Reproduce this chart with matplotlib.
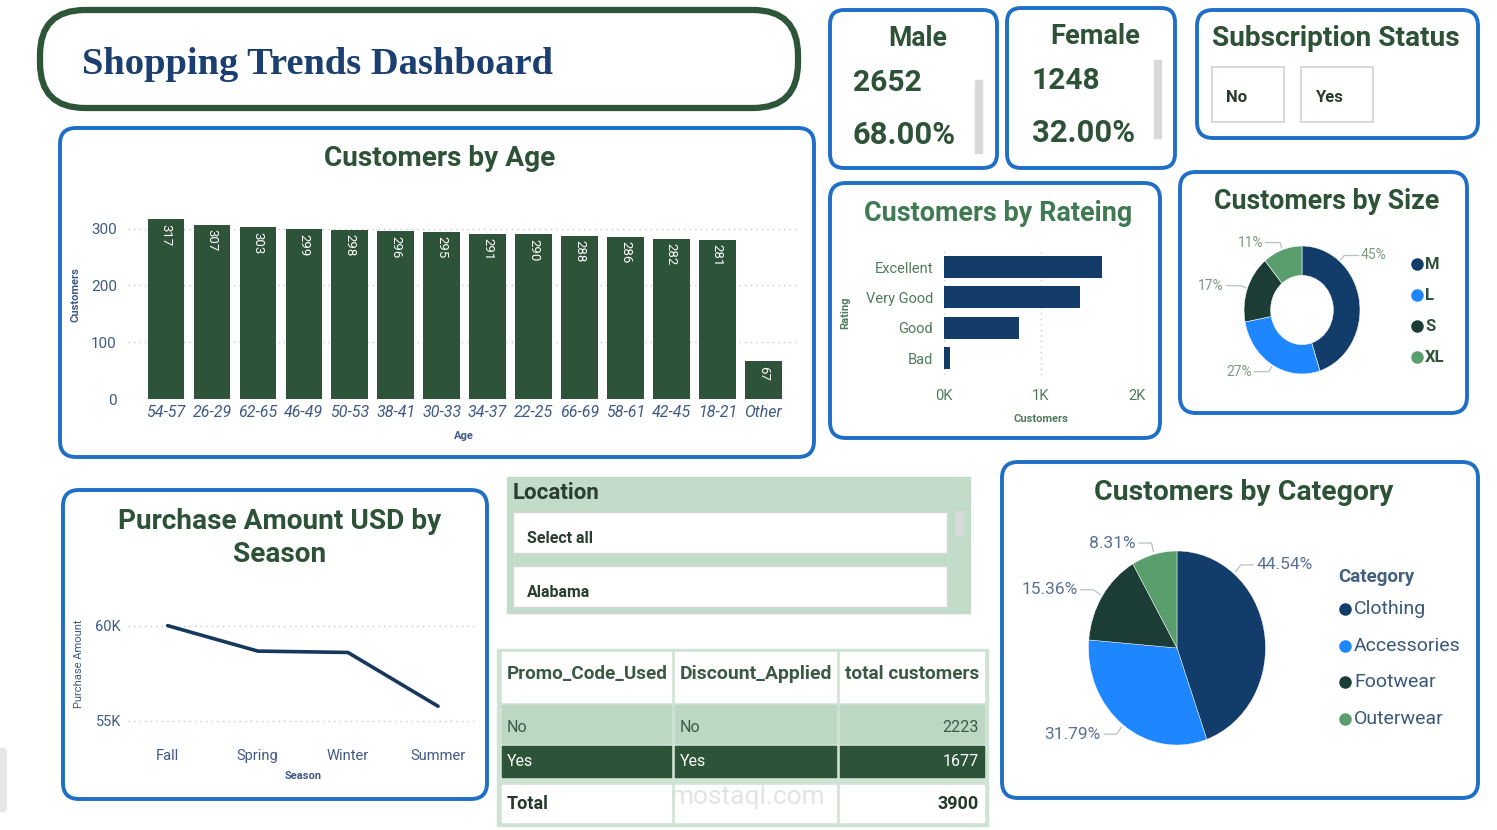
import numpy as np
import matplotlib
matplotlib.use('Agg')
import matplotlib.pyplot as plt
from matplotlib.patches import FancyBboxPatch, Rectangle
from matplotlib import font_manager

W, H = 1497, 830

# ---- data ----
age_groups = ['54-57', '26-29', '62-65', '46-49', '50-53', '38-41', '30-33',
              '34-37', '22-25', '66-69', '58-61', '42-45', '18-21', 'Other']
age_customers = [317, 307, 303, 299, 298, 296, 295, 291, 290, 288, 286, 282, 281, 67]

ratings = ['Excellent', 'Very Good', 'Good', 'Bad']
rating_customers = [1640, 1405, 775, 65]

sizes = ['M', 'L', 'S', 'XL']
size_share = [45, 27, 17, 11]

seasons = ['Fall', 'Spring', 'Winter', 'Summer']
season_amount = [60018, 58679, 58607, 55777]

categories = ['Clothing', 'Accessories', 'Footwear', 'Outerwear']
category_share = [44.54, 31.79, 15.36, 8.31]

genders = ['Male', 'Female']
gender_count = [2652, 1248]
gender_pct = [68.00, 32.00]

subscription = ['No', 'Yes']
locations = ['Select all', 'Alabama']

table_cols = ['Promo_Code_Used', 'Discount_Applied', 'total customers']
promo_used = ['No', 'Yes']
discount_applied = ['No', 'Yes']
promo_customers = [2223, 1677]
promo_total = 3900

# ---- colours ----
BLUE = '#1f6fc6'
TITLE_GREEN = '#2e5237'
NAVY = '#123c69'
BRIGHT = '#1e86ff'
DARK = '#1b3d36'
LIGHT = '#5a9e6e'
BAR_GREEN = '#2d5338'
SLATE = '#3f5a86'
GRAYGREEN = '#4f7a5c'
slice_colors = [NAVY, BRIGHT, DARK, LIGHT]

names = {f.name for f in font_manager.fontManager.ttflist}
COND = 'Liberation Sans Narrow' if 'Liberation Sans Narrow' in names else 'Roboto'
plt.rcParams['font.family'] = [COND, 'DejaVu Sans']

fig = plt.figure(figsize=(W / 100, H / 100), dpi=100)
bg = fig.add_axes([0, 0, 1, 1])
bg.set_xlim(0, W)
bg.set_ylim(H, 0)
bg.axis('off')
renderer = fig.canvas.get_renderer()


def px_axes(x0, y0, x1, y1):
    ax = fig.add_axes([x0 / W, 1 - y1 / H, (x1 - x0) / W, (y1 - y0) / H])
    ax.set_facecolor('none')
    return ax


def panel(x0, y0, x1, y1, ec=BLUE, lw=2.8, r=16, fc='white'):
    bg.add_patch(FancyBboxPatch((x0 + r, y0 + r), x1 - x0 - 2 * r, y1 - y0 - 2 * r,
                                boxstyle=f'round,pad={r},rounding_size={r}',
                                fc=fc, ec=ec, lw=lw))


def fit(t, width):
    bb = t.get_window_extent(renderer)
    t.set_fontsize(t.get_fontsize() * width / bb.width)
    return t


def title(x, y, s, width, ha='center', color=TITLE_GREEN):
    t = bg.text(x, y + 2, s, ha=ha, va='center', color=color, fontsize=18, fontweight='bold')
    return fit(t, width)


def style_axis(ax):
    for sp in ax.spines.values():
        sp.set_visible(False)
    ax.tick_params(length=0)


def pie_labels(ax, shares, fmt, color, fs, hook):
    total = sum(shares)
    start = 90
    for s in shares:
        span = s / total * 360
        mid = start - span / 2
        ang = (start + mid) / 2 if s / total > 0.4 else mid
        a = np.radians(ang)
        cx, cy = np.cos(a), np.sin(a)
        side = 1 if cx >= 0 else -1
        x1, y1 = 1.12 * cx, 1.12 * cy
        ax.plot([1.03 * cx, x1, x1 + side * hook], [1.03 * cy, y1, y1],
                color='#b8c2bc', lw=0.9, clip_on=False)
        ax.text(x1 + side * (hook + 0.04), y1, fmt.format(s), ha='left' if side > 0 else 'right',
                va='center', color=color, fontsize=fs, clip_on=False)
        start -= span


# ---- header ----
panel(40, 10, 798, 108, ec='#2c5637', lw=4.5, r=45)
t = bg.text(82, 64, 'Shopping Trends Dashboard', ha='left', va='center', color='#1a3f70',
            fontsize=28, fontweight='bold', family=['Liberation Serif', 'DejaVu Serif'])
fit(t, 471)

# ---- gender cards ----
cards = [(830, 10, 997, 168, 918, 853, 978, 80, 153),
         (1007, 8, 1175, 168, 1095, 1032, 1157, 60, 138)]
for (x0, y0, x1, y1, tx, vx, gx, g0, g1), g, n, p in zip(cards, genders, gender_count, gender_pct):
    panel(x0, y0, x1, y1, r=14)
    title(tx, y0 + 27, g, 59 if g == 'Male' else 90)
    fit(bg.text(vx, y0 + 73, str(n), ha='left', va='center', color=TITLE_GREEN,
                fontsize=18, fontweight='bold'), 69)
    fit(bg.text(vx, y0 + 125, f'{p:.2f}%', ha='left', va='center', color=TITLE_GREEN,
                fontsize=18, fontweight='bold'), 103)
    bg.add_patch(Rectangle((gx - 3, g0), 7, g1 - g0, color='#d9d9d9'))

# ---- subscription slicer ----
panel(1197, 10, 1478, 138, r=16)
title(1212, 37, 'Subscription Status', 248, ha='left')
for i, s in enumerate(subscription):
    bx = 1212 + i * 89
    bg.add_patch(Rectangle((bx, 67), 72, 55, fc='white', ec='#d2d2d2', lw=1.2))
    bg.text(bx + 14, 97, s, ha='left', va='center', color='#2b3a30', fontsize=12, fontweight='bold')

# ---- customers by age ----
panel(60, 128, 814, 457)
title(440, 157, 'Customers by Age', 232)
ax = px_axes(128, 210, 800, 399)
xs = np.arange(len(age_groups))
ax.bar(xs, age_customers, width=0.8, color=BAR_GREEN, zorder=2)
for x, v in zip(xs, age_customers):
    ax.text(x, v - 8, str(v), rotation=270, ha='center', va='top', color='white', fontsize=9.5)
ax.set_xlim(-0.83, 13.8)
ax.set_ylim(0, 333)
ax.set_yticks([0, 100, 200, 300])
ax.set_xticks(xs)
ax.set_xticklabels(age_groups, fontstyle='italic', fontsize=11.5, color=SLATE)
ax.tick_params(axis='y', labelsize=11, labelcolor=SLATE, pad=8)
ax.tick_params(axis='x', pad=4)
ax.grid(axis='y', ls=(0, (1, 3)), color='#c8c8c8', lw=1, zorder=0)
style_axis(ax)
ax.set_ylabel('Customers', fontsize=8, fontweight='bold', color=SLATE)
ax.yaxis.set_label_coords(-0.071, 0.55)
ax.set_xlabel('Age', fontsize=8, fontweight='bold', color=SLATE)
ax.xaxis.set_label_coords(0.5, -0.17)

# ---- customers by rating ----
panel(830, 183, 1160, 438)
title(998, 211, 'Customers by Rateing', 268, color='#3f7a52')
ax = px_axes(944, 250, 1137, 375)
ys = np.arange(len(ratings))
ax.barh(ys, rating_customers, height=0.72, color='#143c68', zorder=2)
ax.set_ylim(3.55, -0.56)
ax.set_xlim(0, 2000)
ax.set_yticks(ys)
ax.set_yticklabels(ratings)
ax.set_xticks([0, 1000, 2000])
ax.set_xticklabels(['0K', '1K', '2K'])
ax.tick_params(labelsize=10.5, labelcolor=GRAYGREEN)
ax.tick_params(axis='x', pad=10)
ax.tick_params(axis='y', pad=8)
ax.grid(axis='x', ls=(0, (1, 3)), color='#c8c8c8', lw=1, zorder=0)
style_axis(ax)
ax.set_ylabel('Rating', fontsize=8, fontweight='bold', color=GRAYGREEN)
ax.yaxis.set_label_coords(-0.487, 0.5)
ax.set_xlabel('Customers', fontsize=8, fontweight='bold', color=GRAYGREEN)
ax.xaxis.set_label_coords(0.5, -0.31)

# ---- customers by size ----
panel(1180, 172, 1467, 413)
title(1327, 199, 'Customers by Size', 225)
ax = px_axes(1244, 246, 1360, 374)
ax.pie(size_share, colors=slice_colors, startangle=90, counterclock=False,
       wedgeprops=dict(width=0.46, edgecolor='white', linewidth=0.4))
ax.set_aspect('auto')
ax.set_xlim(-1, 1)
ax.set_ylim(-1, 1)
pie_labels(ax, size_share, '{:.0f}%', '#7d9986', 10, 0.25)
for i, (s, c) in enumerate(zip(sizes, slice_colors)):
    yy = 264 + i * 31
    bg.plot(1417, yy, 'o', ms=8, color=c)
    bg.text(1425, yy, s, ha='left', va='center', color=TITLE_GREEN, fontsize=12, fontweight='bold')

# ---- purchase amount by season ----
panel(63, 490, 487, 799)
title(280, 519, 'Purchase Amount USD by', 324)
title(280, 552, 'Season', 93)
ax = px_axes(128, 600, 475, 735)
ax.plot(np.arange(len(seasons)), season_amount, color='#17375f', lw=2.6, solid_capstyle='round')
ax.set_xlim(-0.44, 3.41)
ax.set_ylim(54263, 61368)
ax.set_xticks(np.arange(len(seasons)))
ax.set_xticklabels(seasons)
ax.set_yticks([55000, 60000])
ax.set_yticklabels(['55K', '60K'])
ax.tick_params(labelsize=10.5, labelcolor=SLATE)
ax.tick_params(axis='x', pad=10)
ax.tick_params(axis='y', pad=5)
ax.grid(axis='y', ls=(0, (1, 3)), color='#c8c8c8', lw=1)
style_axis(ax)
ax.set_ylabel('Purchase Amount', fontsize=8, color=SLATE)
ax.yaxis.set_label_coords(-0.127, 0.526)
ax.set_xlabel('Season', fontsize=8, fontweight='bold', color=SLATE)
ax.xaxis.set_label_coords(0.504, -0.27)

# ---- location slicer ----
bg.add_patch(Rectangle((507, 477), 463, 136, color='#c2dcc9'))
fit(bg.text(513, 493, 'Location', ha='left', va='center', color='#2b3d31',
            fontsize=15, fontweight='bold'), 87)
for i, loc in enumerate(locations):
    by = 512 + i * 54
    bg.add_patch(Rectangle((513, by), 434, 41, fc='white', ec='#d6d6d6', lw=1))
    bg.text(527, by + 26, loc, ha='left', va='center', color='#2b3d31', fontsize=11.5,
            fontweight='bold')
bg.add_patch(Rectangle((955, 511), 8, 24, color='#d9d9d9'))

# ---- promo table ----
bg.add_patch(Rectangle((497, 649), 491, 177, color='#cfe3d4'))
col_x = [(502, 671), (675, 836), (840, 984)]
for (c0, c1), name in zip(col_x, table_cols):
    bg.add_patch(Rectangle((c0, 652), c1 - c0, 50, color='white'))
    bg.add_patch(Rectangle((c0, 785), c1 - c0, 37, color='white'))
    fit(bg.text(c0 + 5, 674, name, ha='left', va='center', color='#3b5a46',
                fontsize=12, fontweight='bold'), c1 - c0 - 9)
row_y = [705, 746]
row_fill = ['#bcd8c3', BAR_GREEN]
row_text = ['#3b5a46', 'white']
for ry, fc, tc, p, d, n in zip(row_y, row_fill, row_text, promo_used, discount_applied, promo_customers):
    for c0, c1 in col_x:
        bg.add_patch(Rectangle((c0, ry), c1 - c0, 38 if fc != BAR_GREEN else 31, color=fc))
    mid = ry + (22 if fc != BAR_GREEN else 15)
    bg.text(507, mid, p, ha='left', va='center', color=tc, fontsize=11.5)
    bg.text(680, mid, d, ha='left', va='center', color=tc, fontsize=11.5)
    bg.text(979, mid, str(n), ha='right', va='center', color=tc, fontsize=11.5)
bg.text(507, 804, 'Total', ha='left', va='center', color='#26382c', fontsize=13, fontweight='bold')
bg.text(979, 804, str(promo_total), ha='right', va='center', color='#26382c', fontsize=13,
        fontweight='bold')
bg.text(748, 797, 'mostaql.com', ha='center', va='center', color='#d8d8d8', fontsize=19, alpha=0.7)

# ---- customers by category ----
panel(1002, 462, 1478, 798)
title(1244, 490, 'Customers by Category', 299)
ax = px_axes(1088.5, 551, 1265.5, 745)
ax.pie(category_share, colors=slice_colors, startangle=90, counterclock=False,
       wedgeprops=dict(edgecolor='white', linewidth=0.3))
ax.set_aspect('auto')
ax.set_xlim(-1, 1)
ax.set_ylim(-1, 1)
pie_labels(ax, category_share, '{:.2f}%', '#5a7092', 12.5, 0.14)
bg.text(1338, 577, 'Category', ha='left', va='center', color='#44607f', fontsize=13.5,
        fontweight='bold')
for i, (c, col) in enumerate(zip(categories, slice_colors)):
    yy = 609 + i * 36.7
    bg.plot(1345, yy, 'o', ms=8, color=col)
    bg.text(1354, yy, c, ha='left', va='center', color='#3b5878', fontsize=14)

# grey tab on the left edge
bg.add_patch(FancyBboxPatch((0, 752), 3, 56, boxstyle='round,pad=4,rounding_size=4',
                            fc='#e6e6e6', ec='none'))

fig.savefig('out.png', dpi=100)
